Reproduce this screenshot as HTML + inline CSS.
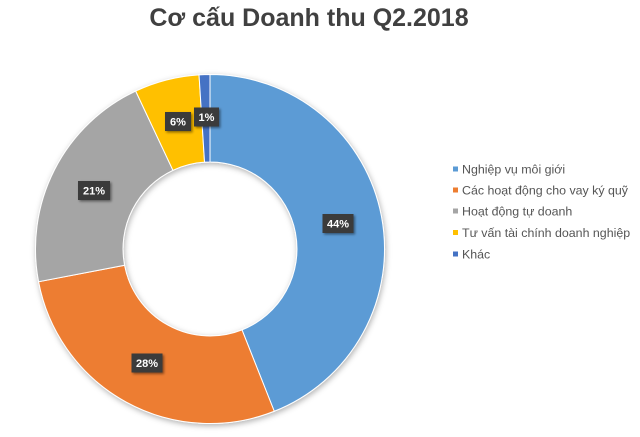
<!DOCTYPE html>
<html>
<head>
<meta charset="utf-8">
<style>
  html,body{margin:0;padding:0;background:#fff;}
  svg{display:block;}
  text{font-family:"Liberation Sans", Arial, sans-serif;}
</style>
</head>
<body>
<svg width="640" height="437" viewBox="0 0 640 437" xmlns="http://www.w3.org/2000/svg">
  <defs>
    <filter id="sh" x="-20%" y="-20%" width="140%" height="140%">
      <feDropShadow dx="1" dy="2" stdDeviation="3" flood-color="#000" flood-opacity="0.3"/>
    </filter>
    <filter id="bsh" x="-30%" y="-30%" width="160%" height="160%">
      <feDropShadow dx="1.5" dy="1.5" stdDeviation="1.2" flood-color="#000" flood-opacity="0.45"/>
    </filter>
  </defs>
  <rect width="640" height="437" fill="#fff"/>
  <text x="309" y="26" text-anchor="middle" font-size="25" font-weight="bold" fill="#404040">Cơ cấu Doanh thu Q2.2018</text>

  <g filter="url(#sh)" stroke="#fff" stroke-width="1">
    <path fill="#5B9BD5" d="M210 74.5 A174.5 174.5 0 0 1 274.24 411.25 L242.02 329.89 A87 87 0 0 0 210 162 Z"/>
    <path fill="#ED7D31" d="M274.24 411.25 A174.5 174.5 0 0 1 38.59 281.70 L124.54 265.30 A87 87 0 0 0 242.02 329.89 Z"/>
    <path fill="#A5A5A5" d="M38.59 281.70 A174.5 174.5 0 0 1 135.70 91.11 L172.96 170.28 A87 87 0 0 0 124.54 265.30 Z"/>
    <path fill="#FFC000" d="M135.70 91.11 A174.5 174.5 0 0 1 199.04 74.85 L204.54 162.17 A87 87 0 0 0 172.96 170.28 Z"/>
    <path fill="#4472C4" d="M199.04 74.85 A174.5 174.5 0 0 1 210 74.5 L210 162 A87 87 0 0 0 204.54 162.17 Z"/>
  </g>

  <g font-size="11" font-weight="bold" fill="#fff" text-anchor="middle">
    <rect x="322.5" y="214" width="31" height="19" fill="#3b3b3b" filter="url(#bsh)"/>
    <text x="338" y="227.5">44%</text>
    <rect x="131.5" y="353.5" width="31" height="19" fill="#3b3b3b" filter="url(#bsh)"/>
    <text x="147" y="367">28%</text>
    <rect x="78" y="181" width="32" height="19" fill="#3b3b3b" filter="url(#bsh)"/>
    <text x="94" y="194.5">21%</text>
    <rect x="165" y="112" width="26" height="19" fill="#3b3b3b" filter="url(#bsh)"/>
    <text x="178" y="125.5">6%</text>
    <rect x="194" y="107.5" width="25" height="19" fill="#3b3b3b" filter="url(#bsh)"/>
    <text x="206.5" y="121">1%</text>
  </g>

  <g font-size="12.4" fill="#555555">
    <rect x="453" y="166.5" width="5" height="5" fill="#5B9BD5"/>
    <text x="462" y="173.5">Nghiệp vụ môi giới</text>
    <rect x="453" y="187.5" width="5" height="5" fill="#ED7D31"/>
    <text x="462" y="194.5">Các hoạt động cho vay ký quỹ</text>
    <rect x="453" y="208.5" width="5" height="5" fill="#A5A5A5"/>
    <text x="462" y="215.5">Hoạt động tự doanh</text>
    <rect x="453" y="230" width="5" height="5" fill="#FFC000"/>
    <text x="462" y="237">Tư vấn tài chính doanh nghiệp</text>
    <rect x="453" y="251.5" width="5" height="5" fill="#4472C4"/>
    <text x="462" y="258.5">Khác</text>
  </g>
</svg>
</body>
</html>
